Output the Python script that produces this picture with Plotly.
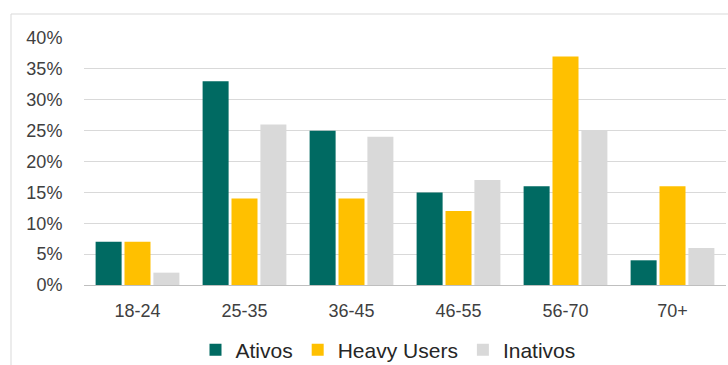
import plotly.graph_objects as go

categories = ["18-24", "25-35", "36-45", "46-55", "56-70", "70+"]
ativos = [0.07, 0.33, 0.25, 0.15, 0.16, 0.04]
heavy_users = [0.07, 0.14, 0.14, 0.12, 0.37, 0.16]
inativos = [0.02, 0.26, 0.24, 0.17, 0.25, 0.06]
y_ticks = [0, 0.05, 0.10, 0.15, 0.20, 0.25, 0.30, 0.35, 0.40]
y_labels = ["0%", "5%", "10%", "15%", "20%", "25%", "30%", "35%", "40%"]

FONT = "Liberation Sans, Arial, sans-serif"

fig = go.Figure()
fig.add_trace(go.Bar(name="Ativos", x=categories, y=ativos, marker=dict(color="#006A62", line=dict(width=0))))
fig.add_trace(go.Bar(name="Heavy Users", x=categories, y=heavy_users, marker=dict(color="#FFC000", line=dict(width=0))))
fig.add_trace(go.Bar(name="Inativos", x=categories, y=inativos, marker=dict(color="#D9D9D9", line=dict(width=0))))

L, R, T, B = 84, 2, 38, 80
W, H = 728, 365
pw, ph = W - L - R, H - T - B

def px_x(p):
    return (p - L) / pw

def px_y(p):
    return (H - B - p) / ph

fig.update_layout(
    width=W, height=H,
    margin=dict(l=L, r=R, t=T, b=B, autoexpand=False),
    paper_bgcolor="white", plot_bgcolor="white",
    barmode="group", bargap=0.19, bargroupgap=0.1,
    font=dict(family=FONT, color="#404040", size=18),
    showlegend=True,
    legend=dict(orientation="h", x=px_x(388), xanchor="center", y=px_y(350), yanchor="middle",
                font=dict(size=21, color="#262626"), itemwidth=30, tracegroupgap=0),
    xaxis=dict(showgrid=False, showline=False, ticks="outside", ticklen=9, tickcolor="rgba(0,0,0,0)",
               tickfont=dict(size=18, color="#404040"), fixedrange=True),
    yaxis=dict(range=[0, 0.40], tickvals=y_ticks, ticktext=y_labels, showgrid=True,
               gridcolor="#D9D9D9", gridwidth=1, zeroline=True, zerolinecolor="#BFBFBF", zerolinewidth=1,
               showline=False, ticks="outside", ticklen=17, tickcolor="rgba(0,0,0,0)",
               tickfont=dict(size=18, color="#404040"), fixedrange=True),
    shapes=[dict(type="rect", xref="paper", yref="paper",
                 x0=px_x(11), x1=px_x(740), y0=px_y(375), y1=px_y(14),
                 line=dict(color="#D9D9D9", width=1), fillcolor="rgba(0,0,0,0)", layer="below")],
)

fig.write_html("out.html")
